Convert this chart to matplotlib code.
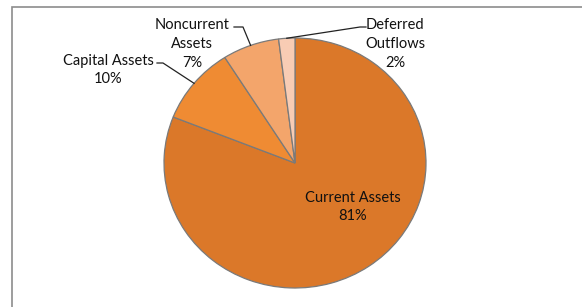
import numpy as np
import matplotlib.pyplot as plt
from matplotlib.patches import Rectangle
from matplotlib.lines import Line2D

plt.rcParams['font.family'] = ['Lato', 'DejaVu Sans']

# data
labels = ['Current Assets', 'Capital Assets', 'Noncurrent\nAssets', 'Deferred\nOutflows']
values = [81, 10, 7, 2]
colors = ['#DB7829', '#EF8B33', '#F3A56B', '#F8CCB4']

W, H = 582, 307
fig = plt.figure(figsize=(W / 100, H / 100), dpi=100)

# outer chart frame (right/bottom edges fall outside the picture)
fig.patches.append(Rectangle((11.5 / W, -0.1), 1.2, 1 - 7.5 / H + 0.1,
                             transform=fig.transFigure, fill=False,
                             edgecolor='#8c8c8c', linewidth=1.2))

# pie center (295,163) px, radii 131 x 125 px
cx, cy, rx, ry = 295, 163, 131, 125
ax = fig.add_axes([(cx - rx) / W, (H - cy - ry) / H, 2 * rx / W, 2 * ry / H])
wedges, _ = ax.pie(values, colors=colors, startangle=90, counterclock=False,
                   wedgeprops=dict(edgecolor='#7a7a7a', linewidth=0.9))
ax.set_aspect('auto')
ax.set_xlim(-1, 1)
ax.set_ylim(-1, 1)
ax.axis('off')


def px(x, y):
    # pixel coords -> axes data coords
    return (x - cx) / rx, (cy - y) / ry


def edge_point(w):
    a = np.deg2rad((w.theta1 + w.theta2) / 2)
    return np.cos(a), np.sin(a)


fs = 10.5
ls = 1.45
# Current Assets label inside
x, y = px(353, 207)
ax.text(x, y, f'{labels[0]}\n{values[0]}%', ha='center', va='center',
        fontsize=fs, color='#111111', linespacing=ls)

# outside labels: (label center px, leader start px, elbow px)
outside = [
    (1, (108, 70), (157, 63), (163, 63)),
    (2, (192, 44), (234, 27), (243, 27)),
    (3, (395, 44), (366, 27), (360, 27)),
]
for i, lab_pos, start, elbow in outside:
    x, y = px(*lab_pos)
    ax.text(x, y, f'{labels[i]}\n{values[i]}%', ha='center', va='center',
            fontsize=fs, color='#111111', linespacing=ls, clip_on=False)
    ex, ey = edge_point(wedges[i])
    sx, sy = px(*start)
    bx, by = px(*elbow)
    ax.add_line(Line2D([sx, bx, ex], [sy, by, ey], color='#222222',
                       linewidth=0.9, clip_on=False))

fig.savefig('out.png', dpi=100)
